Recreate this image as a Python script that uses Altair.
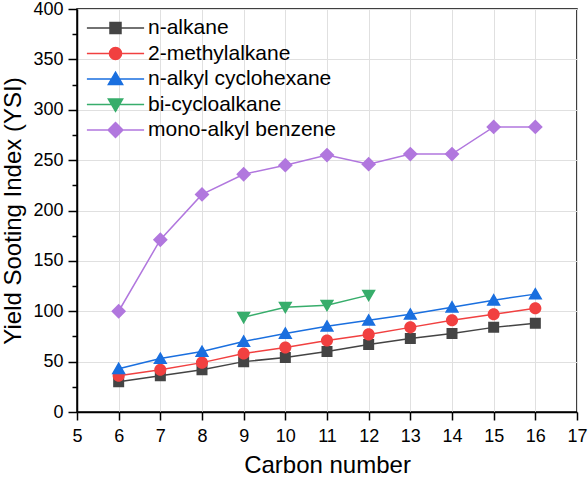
import altair as alt
import pandas as pd

# ---- data ----
carbon = [6, 7, 8, 9, 10, 11, 12, 13, 14, 15, 16]
n_alkane = [30, 36, 42, 50, 54, 60, 67, 73, 78, 84, 88]
methylalkane = [36, 42, 49, 58, 64, 71, 77, 84, 91, 97, 103]
cyclohexane = [43, 53, 60, 70, 78, 85, 91, 97, 104, 111, 117]
bicyclo_carbon = [9, 10, 11, 12]
bicycloalkane = [94, 104, 106, 116]
benzene = [100, 171, 216, 236, 245, 255, 246, 256, 256, 283, 283]

series_names = ["n-alkane", "2-methylalkane", "n-alkyl cyclohexane",
                "bi-cycloalkane", "mono-alkyl benzene"]
x_ticks = list(range(5, 18))
y_major = list(range(0, 401, 50))
y_minor = list(range(25, 400, 50))

# ---- styles ----
colors = ["#444444", "#F14040", "#1A6FDF", "#37AD6B", "#B177DE"]
# marker outlines (unit box) with a horizontal stroke segment; on the chart the
# markers are fill-only so the segment stays invisible, in the legend it is stroked
seg = "M-5.2,0H5.2"
marker_paths = [
    seg + "M-1,-1H1V1H-1Z",
    seg + "M-1.1,0C-1.1,-0.61,-0.61,-1.1,0,-1.1C0.61,-1.1,1.1,-0.61,1.1,0"
          "C1.1,0.61,0.61,1.1,0,1.1C-0.61,1.1,-1.1,0.61,-1.1,0Z",
    seg + "M0,-1.25L1.3,1.0L-1.3,1.0Z",
    seg + "M0,1.25L1.3,-1.0L-1.3,-1.0Z",
    seg + "M0,-1.35L1.35,0L0,1.35L-1.35,0Z",
]
FONT = "Liberation Sans"

rows = []
for name, xs, ys in [
    (series_names[0], carbon, n_alkane),
    (series_names[1], carbon, methylalkane),
    (series_names[2], carbon, cyclohexane),
    (series_names[3], bicyclo_carbon, bicycloalkane),
    (series_names[4], carbon, benzene),
]:
    for xv, yv in zip(xs, ys):
        rows.append({"series": name, "carbon": xv, "ysi": yv})
df = pd.DataFrame(rows)

x_axis = alt.Axis(values=x_ticks, format="d", title="Carbon number",
                  tickSize=8, tickWidth=1.5, tickColor="black",
                  domainColor="black", domainWidth=1.5,
                  labelFontSize=18, titleFontSize=24, labelPadding=7,
                  titlePadding=8, labelFlush=False, grid=True,
                  gridColor="#e0e0e0", gridWidth=1,
                  labelFont=FONT, titleFont=FONT, labelColor="black",
                  titleColor="black", titleFontWeight="normal")
x_enc = alt.X("carbon:Q", scale=alt.Scale(domain=[5, 17], nice=False), axis=x_axis)

y_scale = alt.Scale(domain=[0, 400], nice=False)
y_major_axis = alt.Axis(values=y_major, title="Yield Sooting Index (YSI)",
                        tickSize=9, tickWidth=1.5, tickColor="black",
                        domainColor="black", domainWidth=1.5,
                        labelFontSize=18, titleFontSize=24, labelPadding=5,
                        titlePadding=7, labelFlush=False, grid=True,
                        gridColor="#e0e0e0", gridWidth=1, orient="left",
                        labelFont=FONT, titleFont=FONT, labelColor="black",
                        titleColor="black", titleFontWeight="normal")
y_minor_axis = alt.Axis(values=y_minor, title=None, labels=False, grid=False,
                        domain=False, tickSize=5, tickWidth=1.5,
                        tickColor="black", orient="left")

legend = alt.Legend(title=None, orient="none", legendX=28, legendY=8.5,
                    labelFontSize=21, labelFont=FONT, labelColor="black",
                    labelLimit=400, symbolSize=121, symbolStrokeWidth=1.5,
                    symbolStrokeColor=alt.expr("scale('color', datum.value)"),
                    labelOffset=22, rowPadding=3.5, padding=0)

color_enc = alt.Color("series:N", scale=alt.Scale(domain=series_names, range=colors),
                      legend=legend)
shape_enc = alt.Shape("series:N", scale=alt.Scale(domain=series_names, range=marker_paths),
                      legend=legend)

base = alt.Chart(df)

lines = base.mark_line(strokeWidth=1.5).encode(
    x=x_enc,
    y=alt.Y("ysi:Q", scale=y_scale, axis=y_major_axis),
    color=color_enc,
)

markers = base.mark_point(filled=True, opacity=1, size=121).encode(
    x=x_enc,
    y=alt.Y("ysi:Q", scale=y_scale, axis=y_minor_axis),
    color=color_enc,
    shape=shape_enc,
)

chart = (
    alt.layer(lines, markers)
    .resolve_axis(y="independent")
    .properties(width=500, height=403, background="white",
                padding={"left": 77, "top": 9, "right": 11, "bottom": 65},
                autosize=alt.AutoSizeParams(type="none"))
    .configure_view(stroke="black", strokeWidth=1.5)
    .configure_axis(labelFont=FONT, titleFont=FONT, labelColor="black",
                    titleColor="black", titleFontWeight="normal")
)

chart.save("out.html", embed_options={"renderer": "svg", "actions": False})
